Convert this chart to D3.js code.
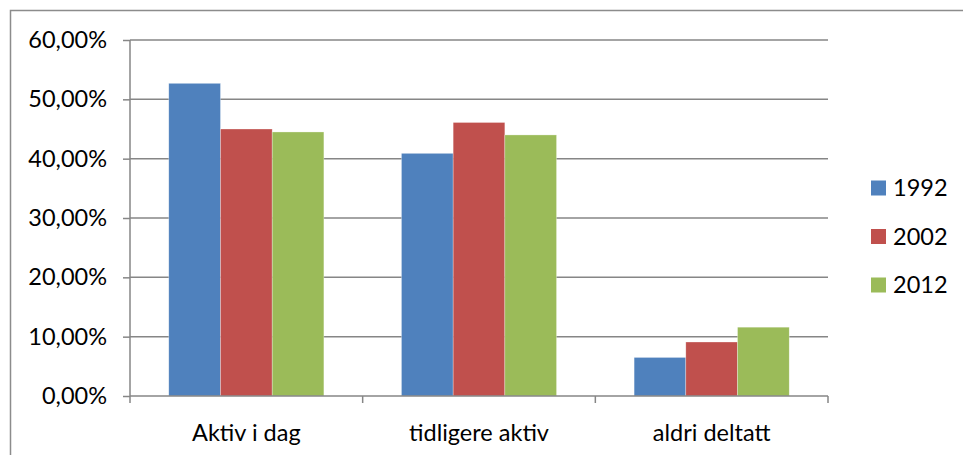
<!DOCTYPE html>
<html>
<head>
<meta charset="utf-8">
<script src="https://cdn.jsdelivr.net/npm/d3@7"></script>
<style>
  html, body { margin: 0; padding: 0; background: #fff; }
  #chart { width: 963px; height: 455px; }
  text { font-family: Lato, "Open Sans", sans-serif; fill: #000; }
</style>
</head>
<body>
<div id="chart"></div>
<script>
// Data
const categories = ['Aktiv i dag', 'tidligere aktiv', 'aldri deltatt'];
const seriesNames = ['1992', '2002', '2012'];
const values1992 = [52.7, 40.9, 6.5];
const values2002 = [45.0, 46.1, 9.1];
const values2012 = [44.5, 44.0, 11.6];
const colors = ['#4f81bd', '#c0504d', '#9bbb59'];
const yTicks = [0, 10, 20, 30, 40, 50, 60];

const seriesValues = [values1992, values2002, values2012];

const width = 963, height = 455;
const margin = { top: 40, right: 135, bottom: 59, left: 130 };
const innerW = width - margin.left - margin.right;
const innerH = height - margin.top - margin.bottom;
const fontSize = '23.5px';

const svg = d3.select('#chart').append('svg')
    .attr('width', width)
    .attr('height', height);

// Outer chart border (only top and left visible in the crop)
svg.append('path')
    .attr('d', `M10.5,${height} V10.5 H${width}`)
    .attr('fill', 'none')
    .attr('stroke', '#8c8c8c')
    .attr('stroke-width', 1.5);

const g = svg.append('g')
    .attr('transform', `translate(${margin.left},${margin.top})`);

// Scales
const x0 = d3.scaleBand()
    .domain(categories)
    .range([0, innerW]);

// gap width 150% -> band = 4.5 bar widths
const x1 = d3.scaleBand()
    .domain(seriesNames)
    .range([0, x0.bandwidth() * 3 / 4.5]);
const groupOffset = x0.bandwidth() * 0.75 / 4.5;

const y = d3.scaleLinear()
    .domain([0, 60])
    .range([innerH, 0]);

// Gridlines
g.append('g')
    .selectAll('line')
    .data(yTicks.filter(d => d > 0))
    .enter().append('line')
    .attr('x1', 0)
    .attr('x2', innerW)
    .attr('y1', d => y(d))
    .attr('y2', d => y(d))
    .attr('stroke', '#868686')
    .attr('stroke-width', 1.5);

// Y axis
const yAxis = d3.axisLeft(y)
    .tickValues(yTicks)
    .tickSize(7)
    .tickPadding(16)
    .tickFormat(d => d3.format('.2f')(d).replace('.', ',') + '%');

const yAxisG = g.append('g').call(yAxis);
yAxisG.select('.domain').remove();
yAxisG.selectAll('line').attr('stroke', '#868686').attr('stroke-width', 1.5);
yAxisG.selectAll('text')
    .style('font-size', fontSize)
    .style('font-family', 'Lato, sans-serif')
    .attr('fill', '#000');
yAxisG.append('line')
    .attr('x1', 0).attr('x2', 0)
    .attr('y1', 0).attr('y2', innerH)
    .attr('stroke', '#868686')
    .attr('stroke-width', 1.5);

// Bars
categories.forEach((cat, ci) => {
    const grp = g.append('g')
        .attr('transform', `translate(${x0(cat) + groupOffset},0)`);
    grp.selectAll('rect')
        .data(seriesNames.map((s, si) => ({ s, v: seriesValues[si][ci], color: colors[si] })))
        .enter().append('rect')
        .attr('x', d => x1(d.s))
        .attr('width', x1.bandwidth())
        .attr('y', d => y(d.v))
        .attr('height', d => innerH - y(d.v))
        .attr('fill', d => d.color)
        .attr('stroke', '#ffffff')
        .attr('stroke-opacity', 0.5)
        .attr('stroke-width', 0.6);
});

// X axis with category ticks between groups
const xAxisG = g.append('g')
    .attr('transform', `translate(0,${innerH})`);
xAxisG.append('line')
    .attr('x1', 0).attr('x2', innerW)
    .attr('stroke', '#868686')
    .attr('stroke-width', 1.5);
xAxisG.selectAll('.tick-line')
    .data(d3.range(categories.length + 1))
    .enter().append('line')
    .attr('class', 'tick-line')
    .attr('x1', i => i === categories.length ? innerW : x0(categories[i]))
    .attr('x2', i => i === categories.length ? innerW : x0(categories[i]))
    .attr('y1', 0)
    .attr('y2', 7)
    .attr('stroke', '#868686')
    .attr('stroke-width', 1.5);
xAxisG.selectAll('.cat-label')
    .data(categories)
    .enter().append('text')
    .attr('class', 'cat-label')
    .attr('x', d => x0(d) + x0.bandwidth() / 2)
    .attr('y', 45)
    .attr('text-anchor', 'middle')
    .style('font-size', fontSize)
    .text(d => d);

// Legend
const legend = svg.append('g')
    .attr('transform', 'translate(871,188)');
seriesNames.forEach((s, i) => {
    const row = legend.append('g')
        .attr('transform', `translate(0,${i * 48.5})`);
    row.append('rect')
        .attr('x', 0)
        .attr('y', -7.5)
        .attr('width', 15)
        .attr('height', 15)
        .attr('fill', colors[i]);
    row.append('text')
        .attr('x', 22)
        .attr('y', 0)
        .attr('dy', '0.36em')
        .style('font-size', fontSize)
        .text(s);
});
</script>
</body>
</html>
